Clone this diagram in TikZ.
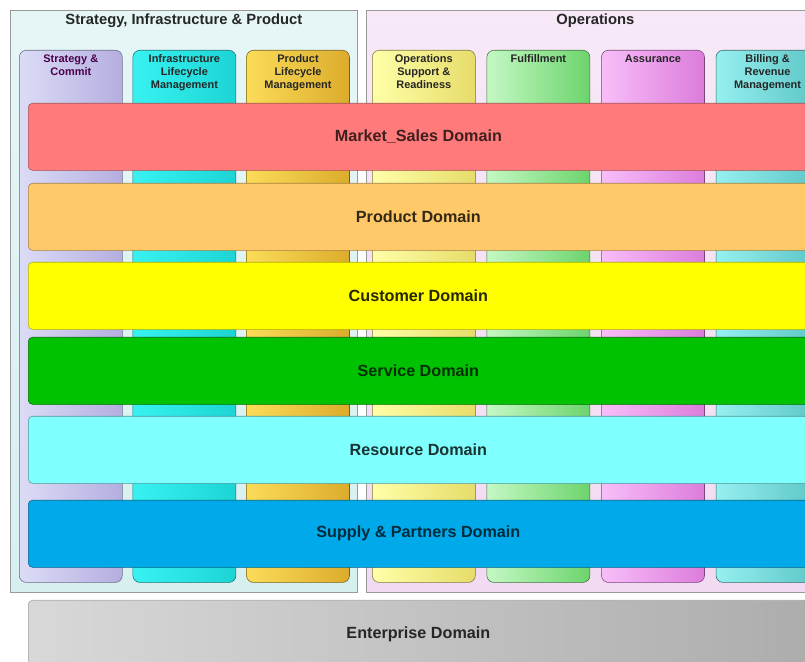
\documentclass[tikz,border=0pt]{standalone}
\usepackage{fontspec}
\setmainfont{Liberation Sans}
\usetikzlibrary{positioning}

\definecolor{sipback}{HTML}{D6F0F0}
\definecolor{opsback}{HTML}{F2DAF2}
\definecolor{lavL}{HTML}{DCDCF6}
\definecolor{lavR}{HTML}{B4AEE0}
\definecolor{cyaL}{HTML}{38F2F2}
\definecolor{cyaR}{HTML}{1CD4D4}
\definecolor{golL}{HTML}{FADC58}
\definecolor{golR}{HTML}{DCAC2C}
\definecolor{yelL}{HTML}{FFFFA8}
\definecolor{yelR}{HTML}{E6DC6A}
\definecolor{grnL}{HTML}{C4F8C4}
\definecolor{grnR}{HTML}{6CD46C}
\definecolor{pnkL}{HTML}{F8BEF8}
\definecolor{pnkR}{HTML}{DC7CDC}
\definecolor{tealL}{HTML}{96F0F0}
\definecolor{tealR}{HTML}{5CC4C4}
\definecolor{marketc}{HTML}{FF7B7B}
\definecolor{productc}{HTML}{FFC868}
\definecolor{customerc}{HTML}{FFFF00}
\definecolor{servicec}{HTML}{00C200}
\definecolor{resourcec}{HTML}{80FFFF}
\definecolor{supplyc}{HTML}{00AAEA}
\definecolor{entL}{HTML}{D8D8D8}
\definecolor{entR}{HTML}{ADADAD}

\tikzstyle{panel}=[rectangle,draw=black!40,inner sep=0pt,anchor=north west]
\tikzstyle{grouptitle}=[font=\bfseries\fontsize{10.5}{12}\selectfont,
text=black!85,inner sep=0pt]
\tikzstyle{column}=[rectangle,rounded corners=5pt,inner sep=0pt,
minimum width=2.575cm,minimum height=13.3cm]
\tikzstyle{coltext}=[align=center,inner sep=0pt,text=black!85,
font=\bfseries\fontsize{7.8}{9.3}\selectfont]
\tikzstyle{domainbar}=[rectangle,rounded corners=3pt,inner sep=0pt,anchor=north west,
minimum width=19.5cm,minimum height=1.675cm,
font=\bfseries\fontsize{11.5}{13}\selectfont]

\begin{document}
\begin{tikzpicture}[x=0.025cm,y=-0.025cm]
            \useasboundingbox (0,0) rectangle (805,662);
            \clip (0,0) rectangle (805,662);

            % GROUP PANELS

            \node[panel,top color=sipback!60!white,bottom color=sipback,
                  minimum width=8.675cm,minimum height=14.55cm] (sip) at (10,10) {};
            \node[panel,top color=opsback!60!white,bottom color=opsback,
                  minimum width=11.45cm,minimum height=14.55cm] (ops) at (366,10) {};
            \node[grouptitle,below=2.5pt of sip.north] (siptitle) {Strategy, Infrastructure \& Product};
            \node[grouptitle,below=2.5pt of ops.north] (opstitle) {Operations};

            % VERTICAL PROCESS COLUMNS

            \node[column,left color=lavL,right color=lavR,draw=lavR!60!black,
                  anchor=north west] (sc) at (19,50) {};
            \node[column,left color=cyaL,right color=cyaR,draw=cyaR!55!black,
                  right=0.25cm of sc] (ilm) {};
            \node[column,left color=golL,right color=golR,draw=golR!55!black,
                  right=0.25cm of ilm] (plm) {};
            \node[column,left color=yelL,right color=yelR,draw=yelR!55!black,
                  anchor=north west] (osr) at (372,50) {};
            \node[column,left color=grnL,right color=grnR,draw=grnR!55!black,
                  right=0.275cm of osr] (ful) {};
            \node[column,left color=pnkL,right color=pnkR,draw=pnkR!55!black,
                  right=0.275cm of ful] (ass) {};
            \node[column,left color=tealL,right color=tealR,draw=tealR!55!black,
                  right=0.275cm of ass] (brm) {};

            \node[coltext,text=violet!60!black,below=3pt of sc.north] (sctext) {Strategy \&\\Commit};
            \node[coltext,below=3pt of ilm.north] (ilmtext) {Infrastructure\\Lifecycle\\Management};
            \node[coltext,below=3pt of plm.north] (plmtext) {Product\\Lifecycle\\Management};
            \node[coltext,below=3pt of osr.north] (osrtext) {Operations\\Support \&\\Readiness};
            \node[coltext,below=3pt of ful.north] (fultext) {Fulfillment};
            \node[coltext,below=3pt of ass.north] (asstext) {Assurance};
            \node[coltext,below=3pt of brm.north] (brmtext) {Billing \&\\Revenue\\Management};

            % HORIZONTAL DOMAINS

            \node[domainbar,fill=marketc,draw=marketc!65!black,text=marketc!25!black] (market) at (28,103) {Market\_Sales Domain};
            \node[domainbar,fill=productc,draw=productc!65!black,text=productc!20!black] (product) at (28,183) {Product Domain};
            \node[domainbar,fill=customerc,draw=customerc!70!black,text=customerc!15!black] (customer) at (28,262) {Customer Domain};
            \node[domainbar,fill=servicec,draw=servicec!55!black,text=servicec!25!black] (service) at (28,337) {Service Domain};
            \node[domainbar,fill=resourcec,draw=resourcec!60!black,text=resourcec!20!black] (resource) at (28,416) {Resource Domain};
            \node[domainbar,fill=supplyc,draw=supplyc!60!black,text=supplyc!25!black] (supply) at (28,500) {Supply \& Partners Domain};

            % ENTERPRISE

            \node[domainbar,left color=entL,right color=entR,draw=black!35,text=black!85,
                  minimum height=1.7cm] (enterprise) at (28,600) {Enterprise Domain};

        \end{tikzpicture}
\end{document}
